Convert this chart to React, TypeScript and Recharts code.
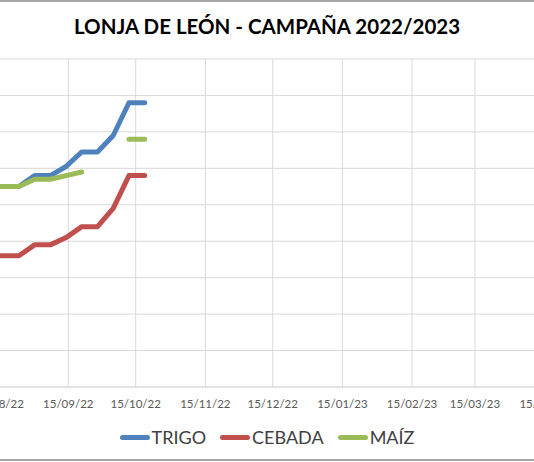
import React from "react";
import { LineChart, Line, XAxis, YAxis, CartesianGrid, Legend } from "recharts";

// weekly quotes, Lonja de León (€/t)
const dates = [
  "2022-08-10", "2022-08-17", "2022-08-24", "2022-08-31", "2022-09-07", "2022-09-14",
  "2022-09-21", "2022-09-28", "2022-10-05", "2022-10-12", "2022-10-19",
];
const trigo = [310, 310, 310, 316, 316, 321, 329, 329, 338, 356, 356];
const cebada = [272, 272, 272, 278, 278, 282, 288, 288, 298, 316, 316];
const maiz = [310, 310, 310, 314, 314, 316, 318, null, null, 336, 336];

const tickDates = [
  "2022-07-15", "2022-08-15", "2022-09-15", "2022-10-15", "2022-11-15", "2022-12-15",
  "2023-01-15", "2023-02-15", "2023-03-15", "2023-04-15", "2023-05-15",
];
const yTicks = [200, 220, 240, 260, 280, 300, 320, 340, 360, 380];

const series = [
  { key: "trigo", name: "TRIGO", color: "#4F81BD" },
  { key: "cebada", name: "CEBADA", color: "#C0504D" },
  { key: "maiz", name: "MAÍZ", color: "#9BBB59" },
];

const toTime = (s: string) => Date.parse(s + "T00:00:00Z");

const data = dates.map((d, i) => ({
  t: toTime(d),
  trigo: trigo[i],
  cebada: cebada[i],
  maiz: maiz[i],
}));

const ticks = tickDates.map(toTime);

const fmtDate = (v: number) => {
  const d = new Date(v);
  const dd = String(d.getUTCDate()).padStart(2, "0");
  const mm = String(d.getUTCMonth() + 1).padStart(2, "0");
  const yy = String(d.getUTCFullYear()).slice(2);
  return `${dd}/${mm}/${yy}`;
};

const FONT = "Lato, 'Liberation Sans', sans-serif";

function renderLegend(props: any) {
  const payload = [...(props.payload || [])];
  // keep series order (TRIGO, CEBADA, MAÍZ)
  const order = (v: string) => series.findIndex((s) => s.name === v);
  payload.sort((a: any, b: any) => order(a.value) - order(b.value));
  return (
    <div style={{ display: "flex", justifyContent: "center", alignItems: "center", height: 24 }}>
      {payload.map((p: any, i: number) => (
        <div
          key={p.value}
          style={{ display: "flex", alignItems: "center", marginRight: i < payload.length - 1 ? 14 : 0 }}
        >
          <span
            style={{
              display: "inline-block",
              width: 30,
              height: 5,
              borderRadius: 3,
              background: p.color,
              marginRight: 2,
            }}
          />
          <span style={{ fontSize: 18, color: "#404040", fontFamily: FONT }}>{p.value}</span>
        </div>
      ))}
    </div>
  );
}

export default function App() {
  return (
    <div
      style={{
        position: "absolute",
        left: 0,
        top: 0,
        width: 534,
        height: 462,
        overflow: "hidden",
        background: "#fff",
        fontFamily: FONT,
      }}
    >
      <div style={{ position: "absolute", left: 0, top: 0, width: 534, height: 2, background: "#a6a6a6" }} />
      <div style={{ position: "absolute", left: 0, top: 459, width: 534, height: 2, background: "#a6a6a6" }} />
      <div
        style={{
          position: "absolute",
          top: 14,
          left: 0,
          width: 534,
          textAlign: "center",
          fontWeight: 700,
          fontSize: 20.5,
          color: "#000",
        }}
      >
        LONJA DE LEÓN - CAMPAÑA 2022/2023
      </div>
      <div style={{ position: "absolute", left: -71, top: 0 }}>
        <LineChart width={683} height={462} data={data} margin={{ top: 59, right: 0, bottom: 13, left: 0 }}>
          <CartesianGrid stroke="#d9d9d9" strokeWidth={1} />
          <XAxis
            dataKey="t"
            type="number"
            domain={[ticks[0], ticks[ticks.length - 1]]}
            ticks={ticks}
            tickFormatter={fmtDate}
            height={38}
            tickLine={false}
            tickMargin={7}
            axisLine={{ stroke: "#d9d9d9" }}
            tick={{ fontSize: 11.5, fill: "#595959", fontFamily: FONT }}
            interval={0}
          />
          <YAxis hide domain={[200, 380]} ticks={yTicks} />
          <Legend
            verticalAlign="bottom"
            height={24}
            content={renderLegend}
            wrapperStyle={{ left: 71, width: 534 }}
          />
          {series.map((s) => (
            <Line
              key={s.key}
              dataKey={s.key}
              name={s.name}
              stroke={s.color}
              strokeWidth={5}
              strokeLinecap="round"
              strokeLinejoin="round"
              dot={false}
              activeDot={false}
              type="linear"
              isAnimationActive={false}
            />
          ))}
        </LineChart>
      </div>
    </div>
  );
}
